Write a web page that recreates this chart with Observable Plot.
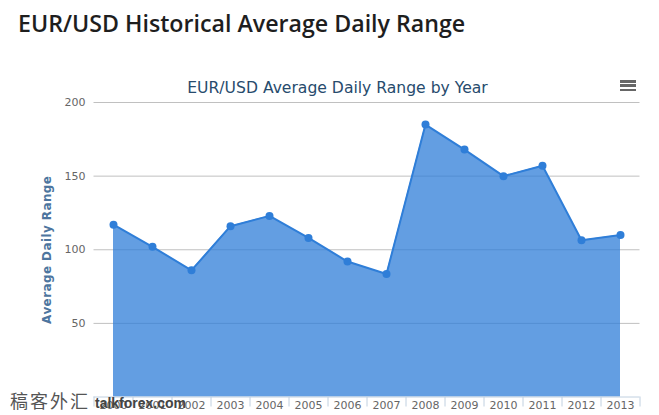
<!DOCTYPE html>
<html>
<head>
<meta charset="utf-8">
<script src="https://cdn.jsdelivr.net/npm/d3@7"></script>
<script src="https://cdn.jsdelivr.net/npm/@observablehq/plot@0.6"></script>
<style>
  body { margin: 0; background: #fff; }
  #wrap { position: relative; width: 659px; height: 415px; overflow: hidden; background: #fff; }
  #pageTitle { position: absolute; left: 18px; top: 7px; font-family: "Open Sans", sans-serif; font-weight: 600; font-size: 23.2px; color: #1e1e1e; white-space: nowrap; }
  #chart { position: absolute; left: 0; top: 0; }
  #menu { position: absolute; left: 620px; top: 80px; width: 16px; }
  #menu div { height: 2.6px; background: #666; margin-bottom: 1.8px; }
  #wm { position: absolute; left: 10px; top: 387px; white-space: nowrap; }
  #wm .cn { font-family: "Noto Sans CJK SC", serif; font-size: 18px; color: #555; letter-spacing: 2px; }
  #wm .en { font-family: "Liberation Sans", Arial, sans-serif; font-weight: bold; font-size: 14px; color: #444; margin-left: 5px; }
</style>
</head>
<body>
<div id="wrap">
  <div id="chart"></div>
  <div id="pageTitle">EUR/USD Historical Average Daily Range</div>
  <div id="menu"><div></div><div></div><div></div></div>
  <div id="wm"><span class="cn">稿客外汇</span><span class="en">talkforex.com</span></div>
</div>
<script>
const years = [2000, 2001, 2002, 2003, 2004, 2005, 2006, 2007, 2008, 2009, 2010, 2011, 2012, 2013];
const values = [117, 102, 86, 116, 123, 108, 92, 83.5, 185, 168, 150, 157, 106.5, 110];
const yTicks = [50, 100, 150, 200];
const chartTitle = "EUR/USD Average Daily Range by Year";
const yTitle = "Average Daily Range";

const data = years.map((year, i) => ({year, value: values[i]}));
const boundaries = years.map(y => y - 0.5).concat([years[years.length - 1] + 0.5]);

const blue = "#2f7ed8";
const chart = Plot.plot({
  width: 659,
  height: 415,
  marginLeft: 93.5,
  marginRight: 19.5,
  marginTop: 102,
  marginBottom: 18.5,
  style: {fontFamily: "DejaVu Sans, Verdana, sans-serif", background: "transparent", overflow: "visible"},
  x: {domain: [boundaries[0], boundaries[boundaries.length - 1]]},
  y: {domain: [0, 200]},
  marks: [
    Plot.gridY(yTicks, {stroke: "#c0c0c0", strokeOpacity: 1}),
    Plot.areaY(data, {x: "year", y: "value", fill: blue, fillOpacity: 0.75}),
    Plot.lineY(data, {x: "year", y: "value", stroke: blue, strokeWidth: 2}),
    Plot.dot(data, {x: "year", y: "value", r: 4, fill: blue}),
    Plot.ruleY([0], {stroke: "#c0d0e0"}),
    Plot.axisY({ticks: yTicks, tickSize: 0, tickPadding: 8.5, fontSize: 11, fill: "#666", label: null}),
    Plot.axisX({ticks: boundaries, tickSize: 10, tickFormat: () => "", stroke: "#c0d0e0", label: null}),
    Plot.axisX({ticks: years, tickSize: 0, tickPadding: 4.5, tickFormat: d => String(d), fontSize: 11, fill: "#666", label: null}),
    Plot.text([chartTitle], {frameAnchor: "top", dx: -29.5, dy: -21, fontSize: 15.6, fill: "#274b6d"}),
    Plot.text([yTitle], {frameAnchor: "left", textAnchor: "middle", dx: -46.5, rotate: -90, fontSize: 12, fontWeight: "bold", fill: "#4d759e", style: "letter-spacing: 0.4px"})
  ]
});
chart.querySelectorAll("text").forEach(t => { if (t.textContent === yTitle) t.style.letterSpacing = "0.4px"; });
document.getElementById("chart").appendChild(chart);
</script>
</body>
</html>
